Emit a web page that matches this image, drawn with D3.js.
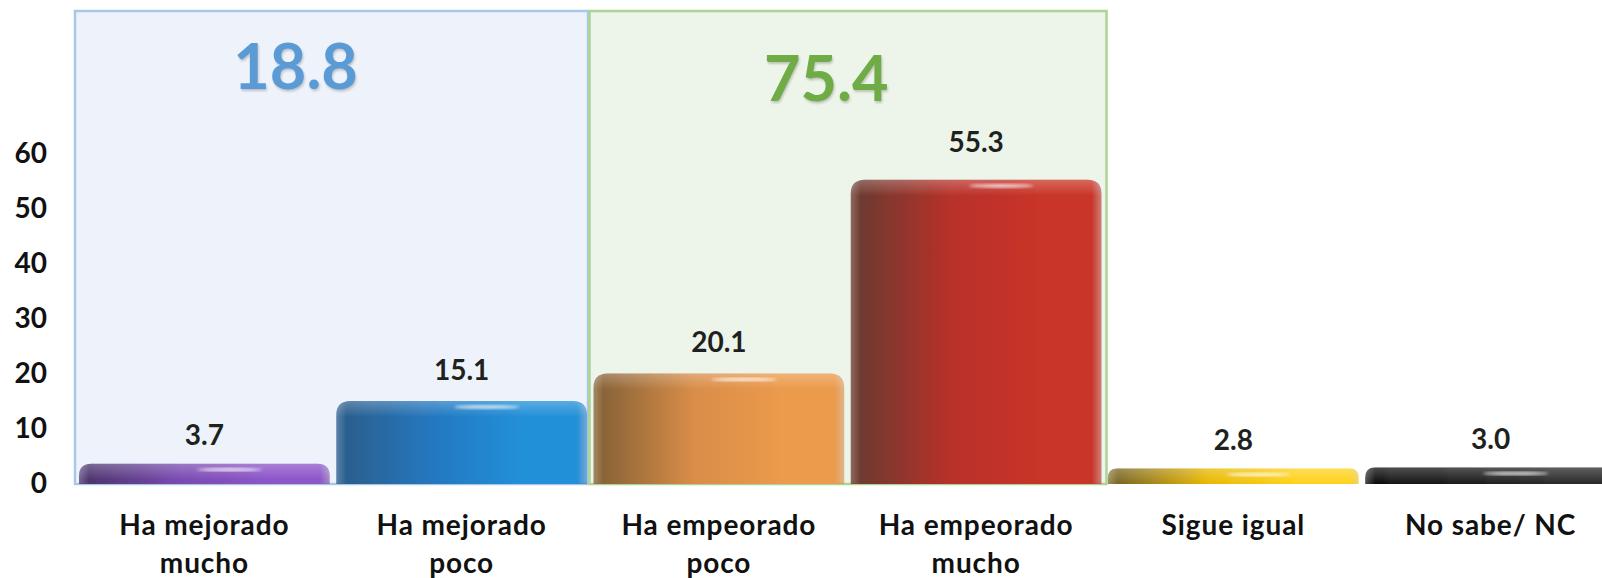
<!DOCTYPE html>
<html>
<head>
<meta charset="utf-8">
<script src="https://cdn.jsdelivr.net/npm/d3@7"></script>
<style>
  html, body { margin: 0; padding: 0; background: #fff; }
  svg { display: block; font-family: Lato, "Open Sans", sans-serif; }
</style>
</head>
<body>
<script>
var categories = ["Ha mejorado mucho", "Ha mejorado poco", "Ha empeorado poco", "Ha empeorado mucho", "Sigue igual", "No sabe/ NC"];
var labelLines = [["Ha mejorado", "mucho"], ["Ha mejorado", "poco"], ["Ha empeorado", "poco"], ["Ha empeorado", "mucho"], ["Sigue igual"], ["No sabe/ NC"]];
var values = [3.7, 15.1, 20.1, 55.3, 2.8, 3.0];
var yTicks = [0, 10, 20, 30, 40, 50, 60];
var groupTotals = [18.8, 75.4];
var groupMembers = [[0, 1], [2, 3]];

// colours: [dark edge, main, bright]
var barColors = [
  ["#4e3570", "#7a4bb0", "#8d55c8"],
  ["#2b5f8e", "#2479c2", "#2390d8"],
  ["#8a6438", "#d98d48", "#ec9a4c"],
  ["#6e3a30", "#b8312a", "#c93428"],
  ["#7a6420", "#e8b800", "#ffd21a"],
  ["#101010", "#1c1c1c", "#2a2a2a"]
];
var groupStyles = [
  {fill: "#eef3fb", stroke: "#a7c8ea", color: "#5b9bd5", fx: 0.43, dy: 89},
  {fill: "#edf5ea", stroke: "#add494", color: "#6fac46", fx: 0.458, dy: 101}
];

var W = 1602, H = 578;
var svg = d3.select("body").append("svg").attr("width", W).attr("height", H);
var defs = svg.append("defs");

var x = d3.scaleBand().domain(categories).range([79, 1616]).paddingInner(0.025).paddingOuter(0);
var y = d3.scaleLinear().domain([0, 60]).range([484, 154]);
var bw = x.bandwidth();

// group boxes
groupMembers.forEach(function(m, i) {
  var x0 = x(categories[m[0]]) - 4;
  var x1 = x(categories[m[1]]) + bw + (i == 0 ? 1 : 5);
  var st = groupStyles[i];
  svg.append("rect")
    .attr("x", x0).attr("y", 11)
    .attr("width", x1 - x0).attr("height", y(0) - 11)
    .attr("fill", st.fill)
    .attr("stroke", st.stroke)
    .attr("stroke-width", 2.5);
  svg.append("text")
    .attr("x", x0 + (x1 - x0) * st.fx)
    .attr("y", st.dy)
    .attr("text-anchor", "middle")
    .attr("font-size", 63)
    .attr("font-weight", 700)
    .attr("fill", st.color)
    .style("filter", "drop-shadow(1px 2px 1px rgba(0,0,0,0.2))")
    .text(groupTotals[i].toFixed(1));
});

// gradients
barColors.forEach(function(c, i) {
  var g = defs.append("linearGradient").attr("id", "cyl" + i)
    .attr("x1", "0").attr("x2", "1").attr("y1", "0").attr("y2", "0");
  g.append("stop").attr("offset", "0%").attr("stop-color", c[0]).attr("stop-opacity", 0.75);
  g.append("stop").attr("offset", "4%").attr("stop-color", c[0]);
  g.append("stop").attr("offset", "40%").attr("stop-color", c[1]);
  g.append("stop").attr("offset", "75%").attr("stop-color", c[2]);
  g.append("stop").attr("offset", "96%").attr("stop-color", c[2]);
  g.append("stop").attr("offset", "100%").attr("stop-color", c[1]).attr("stop-opacity", 0.6);
});
var topG = defs.append("linearGradient").attr("id", "topShine")
  .attr("x1", "0").attr("x2", "0").attr("y1", "0").attr("y2", "1");
topG.append("stop").attr("offset", "0%").attr("stop-color", "#fff").attr("stop-opacity", 0.25);
topG.append("stop").attr("offset", "100%").attr("stop-color", "#fff").attr("stop-opacity", 0);
defs.append("filter").attr("id", "soft").append("feGaussianBlur").attr("stdDeviation", 0.7);
defs.append("filter").attr("id", "glow").append("feGaussianBlur").attr("stdDeviation", 1.5);

function barPath(x0, y0, w, h, r) {
  var yb = y0 + h;
  return "M" + x0 + "," + yb +
    "L" + x0 + "," + (y0 + r) +
    "Q" + x0 + "," + y0 + " " + (x0 + r) + "," + y0 +
    "L" + (x0 + w - r) + "," + y0 +
    "Q" + (x0 + w) + "," + y0 + " " + (x0 + w) + "," + (y0 + r) +
    "L" + (x0 + w) + "," + yb + "Z";
}

var bars = svg.selectAll("g.bar").data(values).enter().append("g").attr("class", "bar");

bars.append("path")
  .attr("d", function(d, i) {
    var h = y(0) - y(d);
    return barPath(x(categories[i]), y(d), bw, h, Math.min(14, h * 0.6));
  })
  .attr("fill", function(d, i) { return "url(#cyl" + i + ")"; })
  .attr("filter", "url(#soft)");

bars.append("path")
  .attr("d", function(d, i) {
    var h = Math.min(16, y(0) - y(d));
    return barPath(x(categories[i]), y(d), bw, h, Math.min(14, h * 0.6));
  })
  .attr("fill", "url(#topShine)");

bars.append("ellipse")
  .attr("cx", function(d, i) { return x(categories[i]) + bw * 0.6; })
  .attr("cy", function(d) { return y(d) + 6; })
  .attr("rx", bw * 0.13)
  .attr("ry", 1.8)
  .attr("fill", "#fff")
  .attr("opacity", 0.75)
  .attr("filter", "url(#glow)");

// value labels
svg.selectAll("text.val").data(values).enter().append("text")
  .attr("class", "val")
  .attr("x", function(d, i) { return x(categories[i]) + bw / 2; })
  .attr("y", function(d) { return y(d) - 18 - d * 0.17; })
  .attr("text-anchor", "middle")
  .attr("font-size", 28)
  .attr("font-weight", 700)
  .attr("fill", "#1e221e")
  .text(function(d) { return d.toFixed(1); });

// category labels
var cat = svg.selectAll("text.cat").data(labelLines).enter().append("text")
  .attr("class", "cat")
  .attr("text-anchor", "middle")
  .attr("font-size", 28)
  .attr("font-weight", 700)
  .attr("letter-spacing", 0.9)
  .attr("fill", "#111");
cat.selectAll("tspan").data(function(d, i) { return d.map(function(s) { return {s: s, i: i}; }); })
  .enter().append("tspan")
  .attr("x", function(d) { return x(categories[d.i]) + bw / 2; })
  .attr("y", function(d, j) { return 535 + j * 38; })
  .text(function(d) { return d.s; });

// y axis
var yAxis = d3.axisLeft(y).tickValues(yTicks).tickSize(0).tickPadding(3);
var ya = svg.append("g").attr("transform", "translate(50,0)").call(yAxis);
ya.select(".domain").remove();
ya.selectAll("text")
  .attr("font-family", "Lato, 'Open Sans', sans-serif")
  .attr("font-size", 28)
  .attr("font-weight", 700)
  .attr("fill", "#111");
</script>
</body>
</html>
